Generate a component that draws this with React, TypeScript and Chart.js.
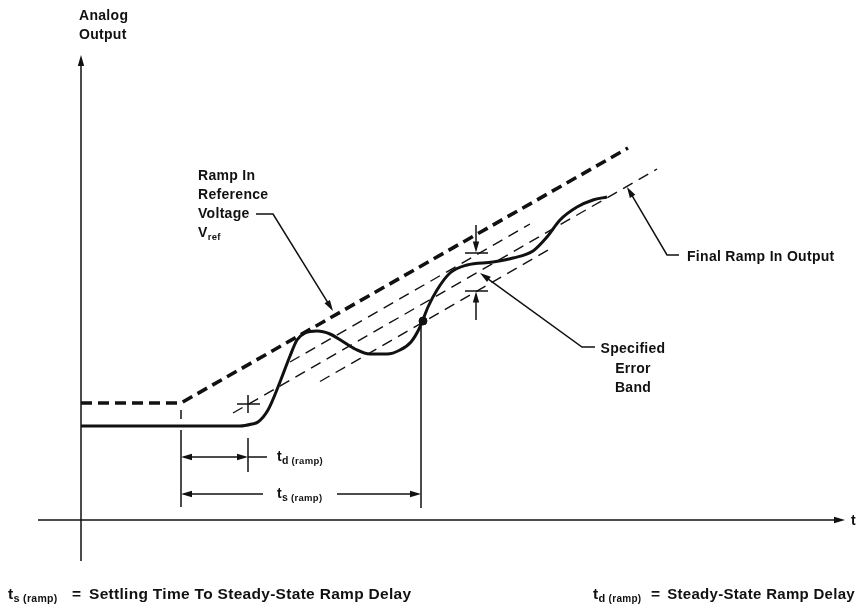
import React, { useEffect, useRef } from "react";
import { Chart, registerables } from "chart.js";

Chart.register(...registerables);

// ---- coordinate frame (time / output units) ----
const X_RANGE = [-8.1, 77.8];
const Y_RANGE = [-8.5, 52.0];

// ---- series ----
const refT = [0, 10.0, 54.7];
const refV = [11.7, 11.7, 37.2];

const finalT = [15.2, 57.6];
const finalV = [10.7, 35.1];

const bandUpperT = [20.9, 44.9];
const bandUpperV = [15.8, 29.6];
const bandLowerT = [23.9, 46.9];
const bandLowerV = [13.85, 27.1];

const outputT = [0, 15.9, 17.1, 17.7, 18.7, 19.9, 20.9, 21.6, 22.4, 23.6, 24.9, 26.1, 27.4, 28.9, 30.6, 31.9, 33.0, 33.9, 34.7, 35.6, 36.9, 38.6, 41.2, 43.2, 45.2, 46.6, 47.9, 49.6, 51.2, 52.6];
const outputV = [9.4, 9.4, 9.6, 9.8, 11.0, 13.8, 16.4, 18.0, 18.7, 18.9, 18.6, 17.9, 17.1, 16.6, 16.6, 17.0, 17.8, 19.3, 21.3, 23.0, 24.7, 25.5, 25.8, 26.2, 26.9, 28.3, 30.0, 31.3, 32.0, 32.3];

const settleT = [34.2];
const settleV = [19.9];

// ---- annotation geometry (same units) ----
// arrows: polyline points, arrowhead at last point
const arrowPaths: number[][][] = [
  [[0, -4.1], [0, 46.5]], // y axis
  [[-4.3, 0], [76.4, 0]], // x axis
  [[13.3, 6.3], [10.0, 6.3]], // td left
  [[13.3, 6.3], [16.7, 6.3]], // td right
  [[18.2, 2.6], [10.0, 2.6]], // ts left
  [[25.6, 2.6], [34.0, 2.6]], // ts right
  [[39.5, 29.5], [39.5, 26.75]], // error band top
  [[39.5, 20.0], [39.5, 22.85]], // error band bottom
  [[51.4, 17.3], [50.1, 17.3], [39.9, 24.7]], // specified error band leader
  [[59.8, 26.5], [58.6, 26.5], [54.6, 33.3]], // final ramp leader
  [[17.5, 30.6], [19.2, 30.6], [25.2, 20.9]], // vref leader
];

const plainSegments: number[][] = [
  [16.7, 6.3, 18.6, 6.3],
  [10.0, 11.0, 10.0, 10.1],
  [10.0, 9.0, 10.0, 1.3],
  [16.7, 12.5, 16.7, 10.7],
  [16.7, 8.2, 16.7, 4.8],
  [15.6, 11.6, 17.9, 11.6],
  [34.0, 19.3, 34.0, 1.2],
  [38.4, 26.7, 40.7, 26.7],
  [38.4, 22.9, 40.7, 22.9],
];

type Part = { t: string; size: number; bold?: boolean; dy?: number };
type Label = { x: number; y: number; align: CanvasTextAlign; parts: Part[] };

const B = 14;
const labels: Label[] = [
  { x: -0.2, y: 50.4, align: "left", parts: [{ t: "Analog", size: B }] },
  { x: -0.2, y: 48.5, align: "left", parts: [{ t: "Output", size: B }] },
  { x: 11.7, y: 34.4, align: "left", parts: [{ t: "Ramp In", size: B }] },
  { x: 11.7, y: 32.5, align: "left", parts: [{ t: "Reference", size: B }] },
  { x: 11.7, y: 30.6, align: "left", parts: [{ t: "Voltage", size: B }] },
  { x: 11.7, y: 28.7, align: "left", parts: [{ t: "V", size: B }, { t: "ref", size: 9.5, dy: 4 }] },
  { x: 55.2, y: 17.1, align: "center", parts: [{ t: "Specified", size: B }] },
  { x: 55.2, y: 15.1, align: "center", parts: [{ t: "Error", size: B }] },
  { x: 55.2, y: 13.2, align: "center", parts: [{ t: "Band", size: B }] },
  { x: 60.6, y: 26.3, align: "left", parts: [{ t: "Final Ramp In Output", size: B }] },
  { x: 77.0, y: -0.1, align: "left", parts: [{ t: "t", size: B }] },
  { x: 19.6, y: 6.3, align: "left", parts: [{ t: "t", size: B }, { t: "d", size: 10.5, dy: 4 }, { t: " (ramp)", size: 9.5, dy: 4 }] },
  { x: 19.6, y: 2.6, align: "left", parts: [{ t: "t", size: B }, { t: "s", size: 10.5, dy: 4 }, { t: " (ramp)", size: 9.5, dy: 4 }] },
  { x: -7.3, y: -7.5, align: "left", parts: [{ t: "t", size: 15.5 }, { t: "s", size: 11, dy: 4 }, { t: " (ramp)", size: 10.5, dy: 4 }] },
  { x: -0.9, y: -7.5, align: "left", parts: [{ t: "=", size: 15.5 }] },
  { x: 0.8, y: -7.5, align: "left", parts: [{ t: "Settling Time To Steady-State Ramp Delay", size: 15.5 }] },
  { x: 51.2, y: -7.5, align: "left", parts: [{ t: "t", size: 15.5 }, { t: "d", size: 11, dy: 4 }, { t: " (ramp)", size: 10, dy: 4 }] },
  { x: 57.0, y: -7.5, align: "left", parts: [{ t: "=", size: 15.5 }] },
  { x: 77.4, y: -7.5, align: "right", parts: [{ t: "Steady-State Ramp Delay", size: 15 }] },
];

const INK = "#111111";
const FONT = "'Liberation Sans', Arial, Helvetica, sans-serif";

function zip(t: number[], v: number[]) {
  return t.map((x, i) => ({ x, y: v[i] }));
}

const annotationPlugin = {
  id: "annotations",
  afterDatasetsDraw(chart: any) {
    const ctx: CanvasRenderingContext2D = chart.ctx;
    const sx = chart.scales.x;
    const sy = chart.scales.y;
    const X = (v: number) => sx.getPixelForValue(v);
    const Y = (v: number) => sy.getPixelForValue(v);
    ctx.save();
    ctx.strokeStyle = INK;
    ctx.fillStyle = INK;
    ctx.lineWidth = 1.5;
    ctx.lineCap = "butt";

    for (const s of plainSegments) {
      ctx.beginPath();
      ctx.moveTo(X(s[0]), Y(s[1]));
      ctx.lineTo(X(s[2]), Y(s[3]));
      ctx.stroke();
    }

    for (const path of arrowPaths) {
      const pts = path.map((p) => [X(p[0]), Y(p[1])]);
      const n = pts.length;
      const [tx, ty] = pts[n - 1];
      const [px, py] = pts[n - 2];
      const ang = Math.atan2(ty - py, tx - px);
      const len = 11;
      const w = 3.2;
      ctx.beginPath();
      ctx.moveTo(pts[0][0], pts[0][1]);
      for (let i = 1; i < n - 1; i++) ctx.lineTo(pts[i][0], pts[i][1]);
      ctx.lineTo(tx - Math.cos(ang) * len * 0.7, ty - Math.sin(ang) * len * 0.7);
      ctx.stroke();
      const bx = tx - Math.cos(ang) * len;
      const by = ty - Math.sin(ang) * len;
      ctx.beginPath();
      ctx.moveTo(tx, ty);
      ctx.lineTo(bx + Math.sin(ang) * w, by - Math.cos(ang) * w);
      ctx.lineTo(bx - Math.sin(ang) * w, by + Math.cos(ang) * w);
      ctx.closePath();
      ctx.fill();
    }

    ctx.textBaseline = "middle";
    try {
      (ctx as any).letterSpacing = "0.3px";
    } catch (e) {}
    for (const lb of labels) {
      let total = 0;
      const widths: number[] = [];
      for (const p of lb.parts) {
        ctx.font = `${p.bold === false ? "" : "bold "}${p.size}px ${FONT}`;
        const w = ctx.measureText(p.t).width;
        widths.push(w);
        total += w;
      }
      let x = X(lb.x);
      if (lb.align === "center") x -= total / 2;
      else if (lb.align === "right") x -= total;
      const y = Y(lb.y);
      ctx.textAlign = "left";
      lb.parts.forEach((p, i) => {
        ctx.font = `${p.bold === false ? "" : "bold "}${p.size}px ${FONT}`;
        ctx.fillText(p.t, x, y + (p.dy || 0));
        x += widths[i];
      });
    }
    ctx.restore();
  },
};

export default function App() {
  const ref = useRef<HTMLCanvasElement | null>(null);
  useEffect(() => {
    if (!ref.current) return;
    const chart = new Chart(ref.current, {
      type: "scatter",
      data: {
        datasets: [
          {
            data: zip(refT, refV),
            showLine: true,
            borderColor: INK,
            borderWidth: 3.6,
            borderDash: [11, 6],
            pointRadius: 0,
            tension: 0,
          },
          {
            data: zip(finalT, finalV),
            showLine: true,
            borderColor: INK,
            borderWidth: 1.4,
            borderDash: [11, 7],
            pointRadius: 0,
          },
          {
            data: zip(bandUpperT, bandUpperV),
            showLine: true,
            borderColor: INK,
            borderWidth: 1.4,
            borderDash: [11, 7],
            pointRadius: 0,
          },
          {
            data: zip(bandLowerT, bandLowerV),
            showLine: true,
            borderColor: INK,
            borderWidth: 1.4,
            borderDash: [11, 7],
            pointRadius: 0,
          },
          {
            data: zip(outputT, outputV),
            showLine: true,
            borderColor: INK,
            borderWidth: 3,
            pointRadius: 0,
            cubicInterpolationMode: "monotone",
          },
          {
            data: zip(settleT, settleV),
            showLine: false,
            pointRadius: 4,
            pointBackgroundColor: INK,
            pointBorderColor: INK,
          },
        ] as any,
      },
      options: {
        animation: false,
        responsive: false,
        maintainAspectRatio: false,
        devicePixelRatio: 1,
        layout: { padding: 0, autoPadding: false },
        plugins: { legend: { display: false }, tooltip: { enabled: false } },
        scales: {
          x: { type: "linear", min: X_RANGE[0], max: X_RANGE[1], display: false },
          y: { type: "linear", min: Y_RANGE[0], max: Y_RANGE[1], display: false },
        },
      },
      plugins: [annotationPlugin],
    });
    return () => chart.destroy();
  }, []);
  return (
    <div style={{ position: "fixed", left: 0, top: 0, width: 859, height: 605, background: "#fff" }}>
      <canvas ref={ref} width={859} height={605} style={{ display: "block" }} />
    </div>
  );
}
